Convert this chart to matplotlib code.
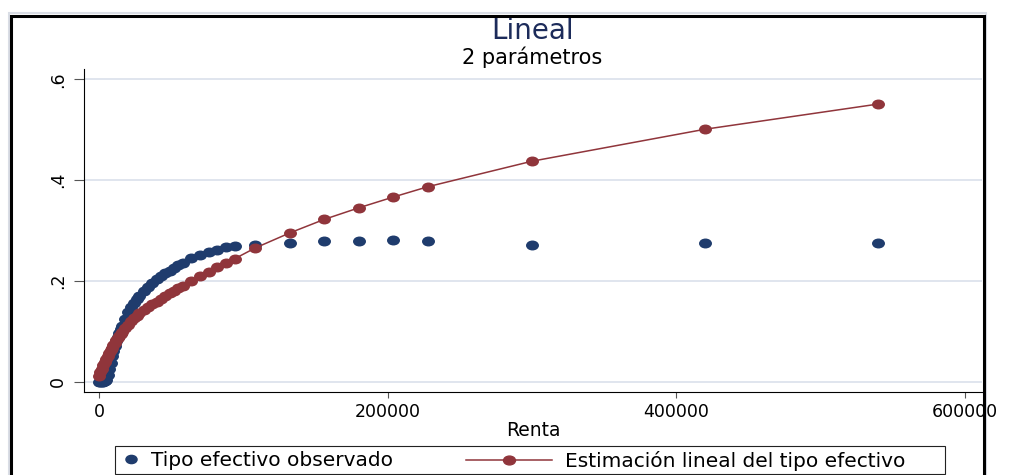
import matplotlib
matplotlib.use("Agg")
import matplotlib.pyplot as plt
from matplotlib.path import Path
from matplotlib.patches import Rectangle
from matplotlib.lines import Line2D

# Income brackets and effective tax rates
renta = [0, 1000, 2000, 3000, 4000, 5000, 6000, 7000, 8000, 9000, 10000,
         11000, 12000, 13000, 14000, 15000, 16000, 18000, 20000, 22000,
         24000, 26000, 28000, 31000, 34000, 37000, 40000, 43000, 46000,
         49000, 52000, 55000, 58000, 64000, 70000, 76000, 82000, 88000,
         94000, 108000, 132000, 156000, 180000, 204000, 228000, 300000,
         420000, 540000]

tipo_observado = [0.000, 0.000, 0.000, 0.000, 0.001, 0.004, 0.014, 0.026,
                  0.038, 0.050, 0.061, 0.071, 0.080, 0.089, 0.097, 0.104,
                  0.111, 0.124, 0.138, 0.148, 0.157, 0.164, 0.171, 0.180,
                  0.188, 0.196, 0.203, 0.209, 0.215, 0.220, 0.226, 0.231,
                  0.236, 0.245, 0.251, 0.257, 0.262, 0.267, 0.270, 0.272,
                  0.276, 0.280, 0.280, 0.281, 0.280, 0.271, 0.276, 0.276]

tipo_estimado = [0.011, 0.019, 0.026, 0.033, 0.039, 0.045, 0.051, 0.056,
                 0.062, 0.067, 0.072, 0.077, 0.082, 0.086, 0.091, 0.095,
                 0.099, 0.106, 0.113, 0.120, 0.126, 0.131, 0.136, 0.142,
                 0.148, 0.154, 0.159, 0.164, 0.170, 0.175, 0.180, 0.185,
                 0.190, 0.1995, 0.209, 0.218, 0.227, 0.2355, 0.244, 0.265,
                 0.295, 0.322, 0.345, 0.3665, 0.387, 0.4375, 0.501, 0.551]

x_ticks = [0, 200000, 400000, 600000]
x_ticklabels = ["0", "200000", "400000", "600000"]
y_ticks = [0, 0.2, 0.4, 0.6]
y_ticklabels = ["0", ".2", ".4", ".6"]

titulo = "Lineal"
subtitulo = "2 parámetros"
eje_x = "Renta"
etiquetas = ["Tipo efectivo observado", "Estimación lineal del tipo efectivo"]

NAVY = "#1f3c6d"
MAROON = "#90353b"
TITLE_NAVY = "#1c2b5a"
GRID = "#e0e5ee"

W, H = 1010, 475
fig = plt.figure(figsize=(W / 100, H / 100), dpi=100)
fig.patch.set_facecolor("white")

# slightly wide elliptical marker
circ = Path.unit_circle()
oval = Path(circ.vertices * [1.35, 1.0], circ.codes)

ax = fig.add_axes([84 / W, 1 - 392 / H, (982 - 84) / W, (392 - 69) / H])
ax.set_xlim(-10400, 611800)
ax.set_ylim(-0.0205, 0.6205)

ax.set_xticks(x_ticks)
ax.set_xticklabels(x_ticklabels)
ax.set_yticks(y_ticks)
ax.set_yticklabels(y_ticklabels, rotation=90, va="center")

ax.grid(axis="y", color=GRID, lw=1.4)
ax.grid(axis="x", visible=False)
ax.set_axisbelow(True)
for s in ("top", "right"):
    ax.spines[s].set_visible(False)
for s in ("left", "bottom"):
    ax.spines[s].set_color("black")
    ax.spines[s].set_linewidth(0.8)

ax.tick_params(axis="y", length=7.2, width=0.8, color="#555555", pad=5,
               labelsize=12.5)
ax.tick_params(axis="x", length=4.3, width=0.8, color="#555555", pad=3.6,
               labelsize=12.5)
ax.set_xlabel(eje_x, fontsize=13.5, labelpad=0)

ax.plot(renta, tipo_observado, ls="none", marker=oval, ms=8.3,
        color=NAVY, mec=NAVY, zorder=3)
ax.plot(renta, tipo_estimado, ls="-", lw=1.1, color=MAROON, marker=oval,
        ms=8.3, mec=MAROON, zorder=4)

# titles
fig.text(533 / W, 1 - 31 / H, titulo, ha="center", va="center",
         fontsize=20, color=TITLE_NAVY)
fig.text(532 / W, 1 - 57 / H, subtitulo, ha="center", va="center",
         fontsize=15, color="black")

# legend: two entries side by side inside a single box
fs_leg = 14.5
fs_px = fs_leg * 100 / 72
h1 = Line2D([], [], ls="none", marker=oval, ms=8, color=NAVY, mec=NAVY)
h2 = Line2D([], [], ls="-", lw=1.1, marker=oval, ms=8.6, color=MAROON,
            mec=MAROON)
fig.legend(handles=[h1], labels=[etiquetas[0]], loc="center left",
           bbox_to_anchor=(121 / W, 1 - 461 / H), frameon=False,
           handlelength=20 / fs_px, handletextpad=10 / fs_px,
           borderpad=0, borderaxespad=0, fontsize=fs_leg)
fig.legend(handles=[h2], labels=[etiquetas[1]], loc="center left",
           bbox_to_anchor=(466 / W, 1 - 461 / H), frameon=False,
           handlelength=86 / fs_px, handletextpad=13 / fs_px,
           borderpad=0, borderaxespad=0, fontsize=fs_leg)
fig.add_artist(Rectangle((115 / W, 1 - 474 / H), (945 - 115) / W, 28 / H,
                         transform=fig.transFigure, fill=False,
                         ec="#222222", lw=0.8, zorder=5))

# graph region outline
fig.add_artist(Rectangle((8.5 / W, -0.05), (985.5 - 8.5) / W,
                         1 - 13.5 / H + 0.05, transform=fig.transFigure,
                         fill=False, ec="#d9dde5", lw=1.5, zorder=9))
fig.add_artist(Rectangle((10.5 / W, -0.05), (983.5 - 10.5) / W,
                         1 - 15.5 / H + 0.05, transform=fig.transFigure,
                         fill=False, ec="black", lw=2.2, zorder=10))

fig.savefig("out.png", dpi=100, facecolor="white")
